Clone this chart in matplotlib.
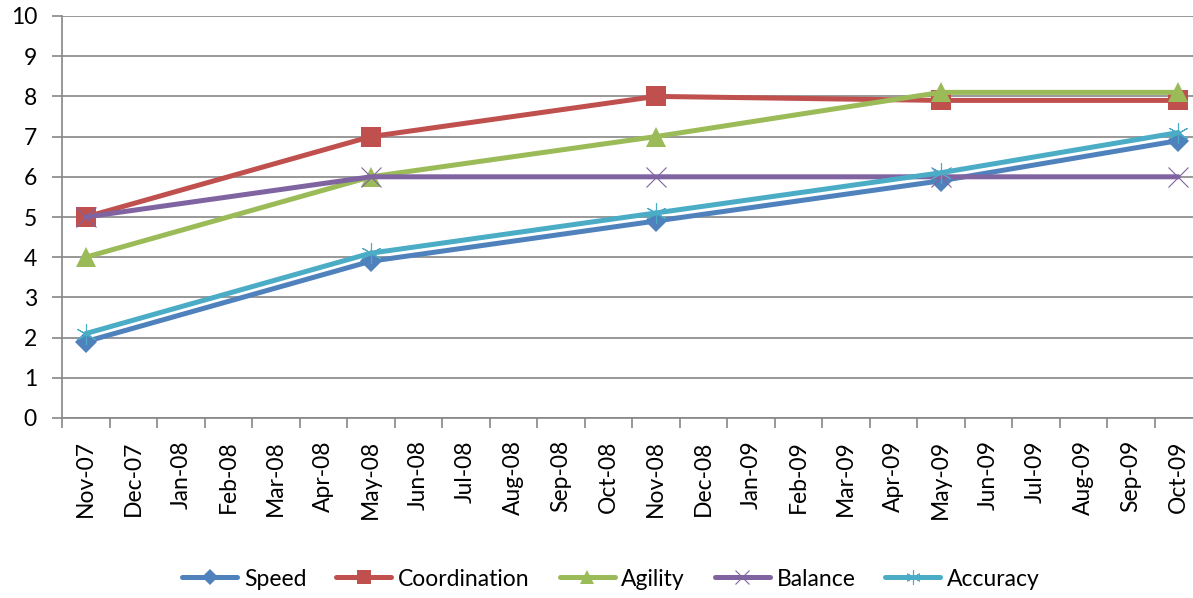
import matplotlib.pyplot as plt
import numpy as np

plt.rcParams['font.family'] = ['Lato', 'DejaVu Sans']

# month labels on the date axis
months = ["Nov-07", "Dec-07", "Jan-08", "Feb-08", "Mar-08", "Apr-08", "May-08", "Jun-08",
          "Jul-08", "Aug-08", "Sep-08", "Oct-08", "Nov-08", "Dec-08", "Jan-09", "Feb-09",
          "Mar-09", "Apr-09", "May-09", "Jun-09", "Jul-09", "Aug-09", "Sep-09", "Oct-09"]

# test dates (as labels from the month list)
test_dates = ["Nov-07", "May-08", "Nov-08", "May-09", "Oct-09"]

speed = [1.9, 3.9, 4.9, 5.9, 6.9]
coordination = [5, 7, 8, 7.9, 7.9]
agility = [4, 6, 7, 8.1, 8.1]
balance = [5, 6, 6, 6, 6]
accuracy = [2.1, 4.1, 5.1, 6.1, 7.1]

series = [
    ("Speed", speed, "#4F81BD", "D", 11),
    ("Coordination", coordination, "#C0504D", "s", 14),
    ("Agility", agility, "#9BBB59", "^", 15),
    ("Balance", balance, "#8064A2", "x", 14),
    ("Accuracy", accuracy, "#4BACC6", (6, 2, 0), 15),
]

x = [months.index(d) for d in test_dates]

fig = plt.figure(figsize=(11.93, 5.98), dpi=100)
ax = fig.add_axes([62 / 1193, 1 - 418 / 598, (1202 - 62) / 1193, (418 - 16) / 598])

for name, vals, color, marker, ms in series:
    thin = marker in ("x", (6, 2, 0))
    ax.plot(x, vals, color=color, lw=3.6, marker=marker, markersize=ms,
            markeredgewidth=0.8 if thin else 0, markeredgecolor=color,
            markerfacecolor=color, label=name, solid_capstyle="round")

ax.set_ylim(0, 10)
ax.set_yticks(range(0, 11))
ax.set_xlim(-0.5, len(months) - 0.5)
ax.set_xticks(range(len(months)))
ax.set_xticklabels(months, rotation=90, fontsize=16.5)
ax.set_xticks(np.arange(-0.5, len(months), 1), minor=True)
ax.tick_params(axis="x", which="major", length=0, pad=16)
ax.tick_params(axis="x", which="minor", length=7, width=1.2, color="#868686", direction="out")
ax.tick_params(axis="y", length=7, width=1.2, color="#868686", pad=11, labelsize=16.5)
ax.grid(axis="y", color="#868686", lw=1.2)
ax.set_axisbelow(True)
for s in ("top", "right"):
    ax.spines[s].set_visible(False)
for s in ("left", "bottom"):
    ax.spines[s].set_color("#868686")
    ax.spines[s].set_linewidth(1.2)

fig.legend(loc="center", bbox_to_anchor=(611 / 1193, 1 - 579 / 598), ncol=5, frameon=False,
           fontsize=16.5, handlelength=2.4, markerscale=0.7, columnspacing=1.3, handletextpad=0.3)

fig.savefig("out.png", dpi=100)
